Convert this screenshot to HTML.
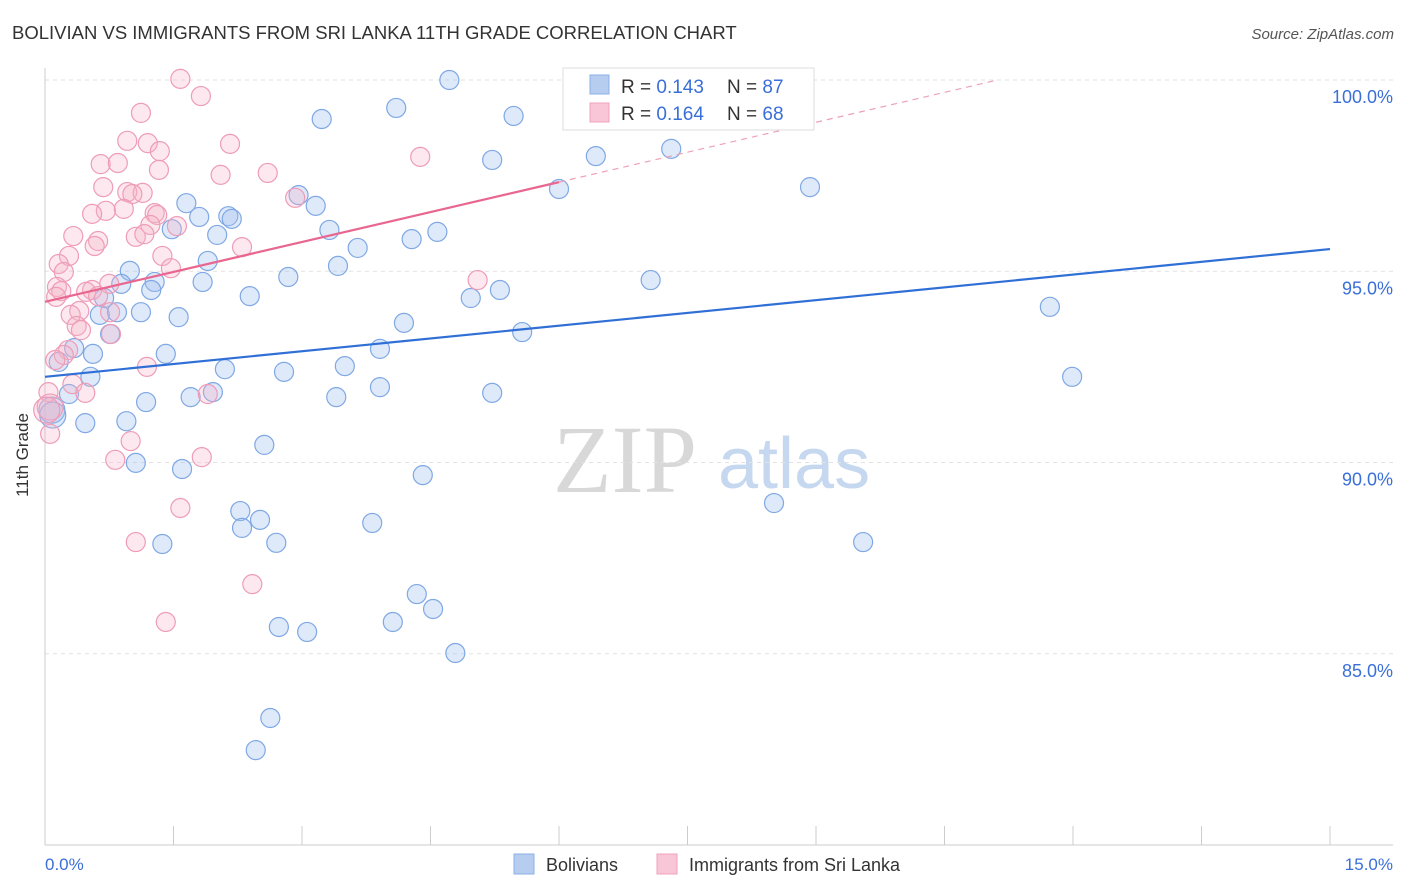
<!DOCTYPE html>
<html><head><meta charset="utf-8"><style>
body{margin:0;background:#fff;font-family:"Liberation Sans",sans-serif}
svg{display:block}
</style></head><body>
<svg id="chart" width="1406" height="892" viewBox="0 0 1406 892" xmlns="http://www.w3.org/2000/svg">
<text x="12" y="39" font-size="18.5" fill="#333">BOLIVIAN VS IMMIGRANTS FROM SRI LANKA 11TH GRADE CORRELATION CHART</text>
<text x="1394" y="39" font-size="15" fill="#555" font-style="italic" text-anchor="end">Source: ZipAtlas.com</text>
<g>
<text x="553" y="492" font-size="96" font-family="Liberation Serif,serif" fill="#d8d8d8">ZIP</text>
<text x="718" y="488" font-size="72" fill="#c6d8ef">atlas</text>
</g>
<g id="grid"></g>
<g id="axes"></g>
<g id="blue"></g>
<g id="pink"></g>
<g id="trends"></g>
<text x="28" y="455" font-size="17" fill="#333" text-anchor="middle" transform="rotate(-90 28 455)">11th Grade</text>
<text x="45" y="870" font-size="17" fill="#3a6fd8">0.0%</text>
<text x="1393" y="870" font-size="17" fill="#3a6fd8" text-anchor="end">15.0%</text>
<g>
<rect x="563" y="68" width="251" height="62" fill="#fff" stroke="#ddd"/>
<rect x="590" y="75" width="19" height="19" fill="#b6cdf0" stroke="#8ab0e6"/>
<text x="621" y="93" font-size="19" fill="#333">R = <tspan fill="#3a6fd8">0.143</tspan></text>
<text x="727" y="93" font-size="19" fill="#333">N = <tspan fill="#3a6fd8">87</tspan></text>
<rect x="590" y="103" width="19" height="19" fill="#f8c6d6" stroke="#f0a0bc"/>
<text x="621" y="120" font-size="19" fill="#333">R = <tspan fill="#3a6fd8">0.164</tspan></text>
<text x="727" y="120" font-size="19" fill="#333">N = <tspan fill="#3a6fd8">68</tspan></text>
</g>
<g>
<rect x="514" y="854" width="20" height="20" fill="#b6cdf0" stroke="#8ab0e6"/>
<text x="546" y="871" font-size="18" fill="#333">Bolivians</text>
<rect x="657" y="854" width="20" height="20" fill="#f8c6d6" stroke="#f0a0bc"/>
<text x="689" y="871" font-size="18" fill="#333">Immigrants from Sri Lanka</text>
</g>
</svg>
<script>
const yTicks=[100,95,90,85];
const yTickLabels=["100.0%","95.0%","90.0%","85.0%"];
const xTicks=[0,1.5,3,4.5,6,7.5,9,10.5,12,13.5,15];
const blueX=[6.36,4.72,8.09,4.10,3.23,5.47,5.22,6.43,7.31,6.00,8.93,2.96,3.16,1.65,1.80,2.14,2.18,1.48,2.01,3.32,4.28,4.58,3.65,1.90,3.42,0.99,2.84,1.84,0.89,1.28,1.24,2.39,0.69,4.97,5.31,7.07,11.73,1.12,1.56,0.64,0.84,0.76,4.19,5.57,0.34,0.56,1.41,3.91,0.16,3.50,2.10,2.79,0.53,11.99,3.91,5.22,0.28,1.70,3.40,1.96,1.18,0.08,0.09,0.95,0.47,2.56,1.06,1.60,4.41,8.51,2.28,2.51,2.30,3.82,2.70,1.37,9.55,4.34,4.53,4.06,2.73,3.06,4.79,2.63,2.46];
const blueY=[100,100,100,99.27,98.98,99.06,97.91,98.01,98.20,97.15,97.20,96.99,96.71,96.78,96.42,96.44,96.37,96.10,95.95,96.08,95.84,96.03,95.61,95.27,95.14,95.01,94.85,94.72,94.67,94.72,94.51,94.35,94.30,94.30,94.51,94.77,94.07,93.93,93.80,93.86,93.93,93.36,93.65,93.41,92.99,92.84,92.84,92.97,92.63,92.52,92.44,92.37,92.24,92.24,91.97,91.82,91.79,91.71,91.71,91.84,91.58,91.37,91.24,91.08,91.03,90.46,89.99,89.83,89.67,88.94,88.73,88.50,88.29,88.42,87.90,87.87,87.92,86.56,86.17,85.83,85.70,85.57,85.02,83.32,82.48];
const pinkX=[1.58,1.82,1.12,0.96,1.20,2.16,1.34,4.38,0.65,0.85,1.33,2.60,2.05,0.68,0.96,1.14,1.02,2.92,0.92,0.71,0.55,1.28,1.31,1.23,1.54,0.33,1.06,1.16,2.30,0.62,0.58,0.28,1.37,0.16,1.47,0.22,5.05,0.75,0.14,0.55,0.48,0.19,0.62,0.13,0.40,0.30,0.76,0.37,0.42,0.77,0.27,0.22,0.12,1.19,0.04,0.32,0.47,1.90,0.06,0.02,0.06,1.00,0.82,1.83,1.58,1.06,2.42,1.41];
const pinkY=[100.03,99.58,99.14,98.41,98.35,98.33,98.14,97.99,97.80,97.83,97.65,97.57,97.52,97.20,97.07,97.05,97.02,96.92,96.63,96.58,96.50,96.52,96.47,96.21,96.18,95.92,95.90,95.97,95.63,95.79,95.66,95.40,95.40,95.19,95.08,94.98,94.77,94.67,94.59,94.51,94.46,94.48,94.35,94.33,93.96,93.86,93.93,93.57,93.46,93.36,92.94,92.81,92.68,92.50,91.84,92.05,91.82,91.79,91.45,91.37,90.75,90.56,90.07,90.14,88.81,87.92,86.82,85.83];
const blueTrend=[92.24,95.58]; // y at x=0 and x=15
const pinkTrend=[94.20,97.33]; // y at x=0 and x=6 (solid), extends dashed

const NS="http://www.w3.org/2000/svg";
const X0=45,X1=1330,xs=v=>X0+(v/15)*(X1-X0);
const ys=v=>80+(100-v)*38.25;
function mk(tag,attrs,parent){const e=document.createElementNS(NS,tag);for(const k in attrs)e.setAttribute(k,attrs[k]);parent.appendChild(e);return e;}
const grid=document.getElementById('grid'),axes=document.getElementById('axes');
yTicks.forEach((t,i)=>{
  const l=mk('line',{x1:X0,x2:1393,y1:ys(t),y2:ys(t),stroke:'#e2e2e2','stroke-dasharray':'4,4'},grid);
  
  
  const tx=mk('text',{x:1393,y:ys(t)+23,'font-size':18,fill:'#3a6fd8','text-anchor':'end'},axes);
  tx.textContent=yTickLabels[i];
  
  
});
const xa=mk('line',{x1:X0,x2:1393,y1:845,y2:845,stroke:'#ccc'},axes);


const ya=mk('line',{x1:X0,x2:X0,y1:68,y2:845,stroke:'#ccc'},axes);


xTicks.forEach(t=>{
  const l=mk('line',{x1:xs(t),x2:xs(t),y1:826,y2:845,stroke:'#ccc'},axes);
  
  
});
function pts(xA,yA,g,fill,stroke,name){
  xA.forEach((x,i)=>{
    const big=(x<0.1&&yA[i]>91.2&&yA[i]<91.5)?13:9.5;
    const c=mk('circle',{cx:xs(x),cy:ys(yA[i]),r:big,fill:fill,stroke:stroke,'stroke-width':1.2},g);
    
    
  });
}
pts(blueX,blueY,document.getElementById('blue'),'rgba(160,192,238,0.35)','#7fa8e4','bolivian-point');
pts(pinkX,pinkY,document.getElementById('pink'),'rgba(246,178,200,0.3)','#ee9cb8','sri-lanka-point');
const tr=document.getElementById('trends');
const bl=mk('line',{x1:xs(0),y1:ys(blueTrend[0]),x2:xs(15),y2:ys(blueTrend[1]),stroke:'#2f6fd6','stroke-width':2.2},tr);


const ps=(pinkTrend[1]-pinkTrend[0])/6;
const pl=mk('line',{x1:xs(0),y1:ys(pinkTrend[0]),x2:xs(6),y2:ys(pinkTrend[1]),stroke:'#e8668f','stroke-width':2.2},tr);


const xEnd=(100-pinkTrend[0])/ps;
const pd=mk('line',{x1:xs(6),y1:ys(pinkTrend[1]),x2:xs(xEnd),y2:ys(100),stroke:'#eea0b8','stroke-width':1.2,'stroke-dasharray':'6,5'},tr);


</script>
</body></html>
